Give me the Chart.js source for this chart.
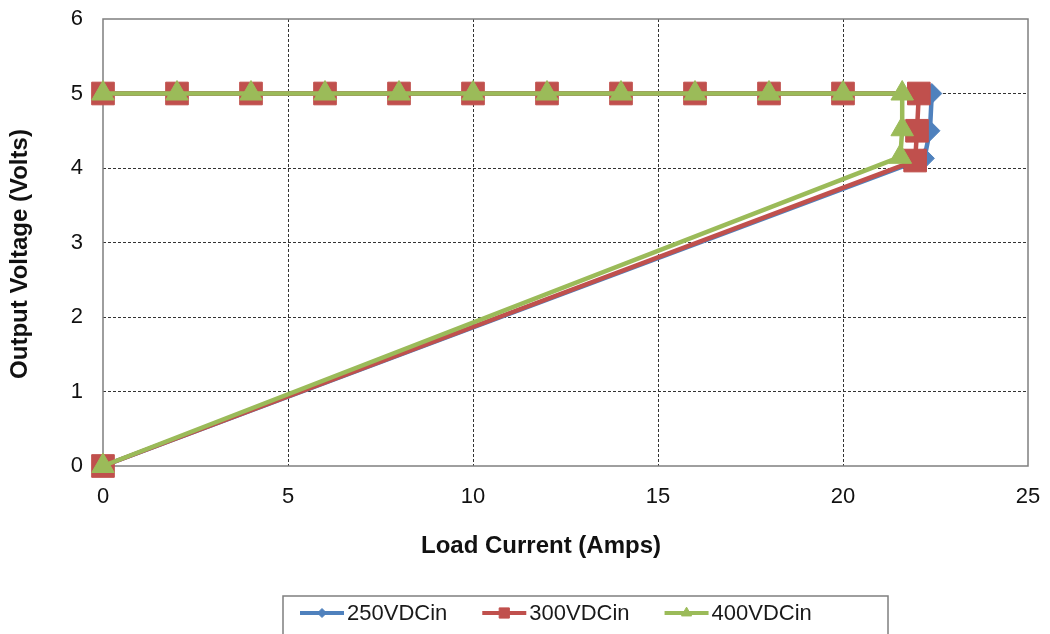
<!DOCTYPE html>
<html>
<head>
<meta charset="utf-8">
<title>Output Voltage vs Load Current</title>
<script src="https://cdn.jsdelivr.net/npm/chart.js@4/dist/chart.umd.min.js"></script>
<style>
  html, body { margin: 0; padding: 0; background: #fff; }
  #wrap { width: 1050px; height: 634px; }
</style>
</head>
<body>
<div id="wrap"><canvas id="voltChart" width="1050" height="634"></canvas></div>
<script>
// regulated part of the curve (same for all three inputs)
const loadCurrent = [0, 2, 4, 6, 8, 10, 12, 14, 16, 18, 20];
const outputVolts = [5, 5, 5, 5, 5, 5, 5, 5, 5, 5, 5];

// current limit / foldback part, then back to the origin
const fold250X = [22.4, 22.35, 22.2, 0];
const fold250Y = [5.0, 4.5, 4.13, 0];
const fold300X = [22.05, 22.0, 21.95, 0];
const fold300Y = [5.0, 4.5, 4.1, 0];
const fold400X = [21.6, 21.6, 21.55, 0];
const fold400Y = [5.0, 4.52, 4.15, 0];

const seriesNames = ['250VDCin', '300VDCin', '400VDCin'];
const xTicks = [0, 5, 10, 15, 20, 25];
const yTicks = [0, 1, 2, 3, 4, 5, 6];
const xTitle = 'Load Current (Amps)';
const yTitle = 'Output Voltage (Volts)';

const FONT = "'Liberation Sans', Arial, sans-serif";
const colors = ['#4F81BD', '#C0504D', '#9BBB59'];
const markers = ['rectRot', 'rect', 'triangle'];
const markerSize = [10, 16, 13];

function toPoints(xs, ys) {
    return xs.map((x, i) => ({ x: x, y: ys[i] }));
}

const foldX = [fold250X, fold300X, fold400X];
const foldY = [fold250Y, fold300Y, fold400Y];

const datasets = seriesNames.map((name, i) => ({
    label: name,
    data: toPoints(loadCurrent.concat(foldX[i]), outputVolts.concat(foldY[i])),
    showLine: true,
    borderColor: colors[i],
    backgroundColor: colors[i],
    borderWidth: 4.5,
    pointStyle: markers[i],
    pointRadius: markerSize[i],
    pointHoverRadius: markerSize[i],
    pointBorderWidth: 1,
    tension: 0,
    clip: false,
    order: 2 - i   // green drawn on top
}));

// plot frame (top / right / axes) drawn under the series
const frame = {
    id: 'frame',
    beforeDatasetsDraw(chart) {
        const a = chart.chartArea;
        const ctx = chart.ctx;
        ctx.save();
        ctx.strokeStyle = '#7F7F7F';
        ctx.lineWidth = 1.5;
        ctx.strokeRect(a.left, a.top, a.right - a.left, a.bottom - a.top);
        ctx.restore();
    }
};

// axis titles: the spreadsheet placed them a bit off the plot centre
const axisTitles = {
    id: 'axisTitles',
    afterDraw(chart) {
        const ctx = chart.ctx;
        ctx.save();
        ctx.font = 'bold 24px ' + FONT;
        ctx.fillStyle = '#111';
        ctx.textAlign = 'center';
        ctx.textBaseline = 'middle';
        ctx.fillText(xTitle, 541, 546);
        ctx.translate(20, 254);
        ctx.rotate(-Math.PI / 2);
        ctx.fillText(yTitle, 0, 0);
        ctx.restore();
    }
};

// boxed legend at the bottom, line + marker like the spreadsheet one
const boxLegend = {
    id: 'boxLegend',
    afterDraw(chart) {
        const ctx = chart.ctx;
        ctx.save();
        ctx.font = '22px ' + FONT;
        const lineLen = 44, textGap = 3, itemGap = 35;

        const boxLeft = 283, boxW = 605, top = 596;
        ctx.strokeStyle = '#7F7F7F';
        ctx.lineWidth = 1.5;
        ctx.strokeRect(boxLeft, top, boxW, 60);

        const y = 613;
        let x = 300;
        seriesNames.forEach((name, i) => {
            ctx.strokeStyle = colors[i];
            ctx.fillStyle = colors[i];
            ctx.lineWidth = 4;
            ctx.beginPath();
            ctx.moveTo(x, y);
            ctx.lineTo(x + lineLen, y);
            ctx.stroke();
            ctx.lineWidth = 1;
            Chart.helpers.drawPoint(ctx, {
                pointStyle: markers[i],
                radius: markerSize[i] * 0.45,
                rotation: 0,
                borderWidth: 1
            }, x + lineLen / 2, y);
            ctx.fillStyle = '#1a1a1a';
            ctx.textBaseline = 'middle';
            ctx.textAlign = 'left';
            ctx.fillText(name, x + lineLen + textGap, y + 1);
            x += lineLen + textGap + ctx.measureText(name).width + itemGap;
        });
        ctx.restore();
    }
};

function gridColor(ctx) {
    const s = ctx.scale;
    if (ctx.tick && (ctx.tick.value === s.min || ctx.tick.value === s.max)) return 'rgba(0,0,0,0)';
    return '#333';
}

new Chart(document.getElementById('voltChart'), {
    type: 'scatter',
    data: { datasets: datasets },
    options: {
        responsive: false,
        animation: false,
        layout: { padding: { left: 0, top: 19, right: 22, bottom: 74 } },
        plugins: {
            legend: { display: false },
            tooltip: { enabled: false }
        },
        scales: {
            x: {
                type: 'linear',
                min: xTicks[0],
                max: xTicks[xTicks.length - 1],
                afterBuildTicks(scale) {
                    scale.ticks = xTicks.map(v => ({ value: v }));
                },
                afterFit(scale) {
                    scale.height = 94;
                    scale.paddingLeft = 0;
                    scale.paddingRight = 0;
                },
                border: { display: false, dash: [3, 2] },
                grid: { color: gridColor, lineWidth: 1, drawTicks: false },
                ticks: { color: '#111', font: { family: FONT, size: 22 }, padding: 18, maxRotation: 0 }
            },
            y: {
                type: 'linear',
                min: yTicks[0],
                max: yTicks[yTicks.length - 1],
                afterBuildTicks(scale) {
                    scale.ticks = yTicks.map(v => ({ value: v }));
                },
                afterFit(scale) {
                    scale.width = 103;
                    scale.paddingTop = 0;
                    scale.paddingBottom = 0;
                },
                border: { display: false, dash: [3, 2] },
                grid: { color: gridColor, lineWidth: 1, drawTicks: false },
                ticks: { color: '#111', font: { family: FONT, size: 22 }, padding: 20 }
            }
        }
    },
    plugins: [frame, axisTitles, boxLegend]
});
</script>
</body>
</html>
